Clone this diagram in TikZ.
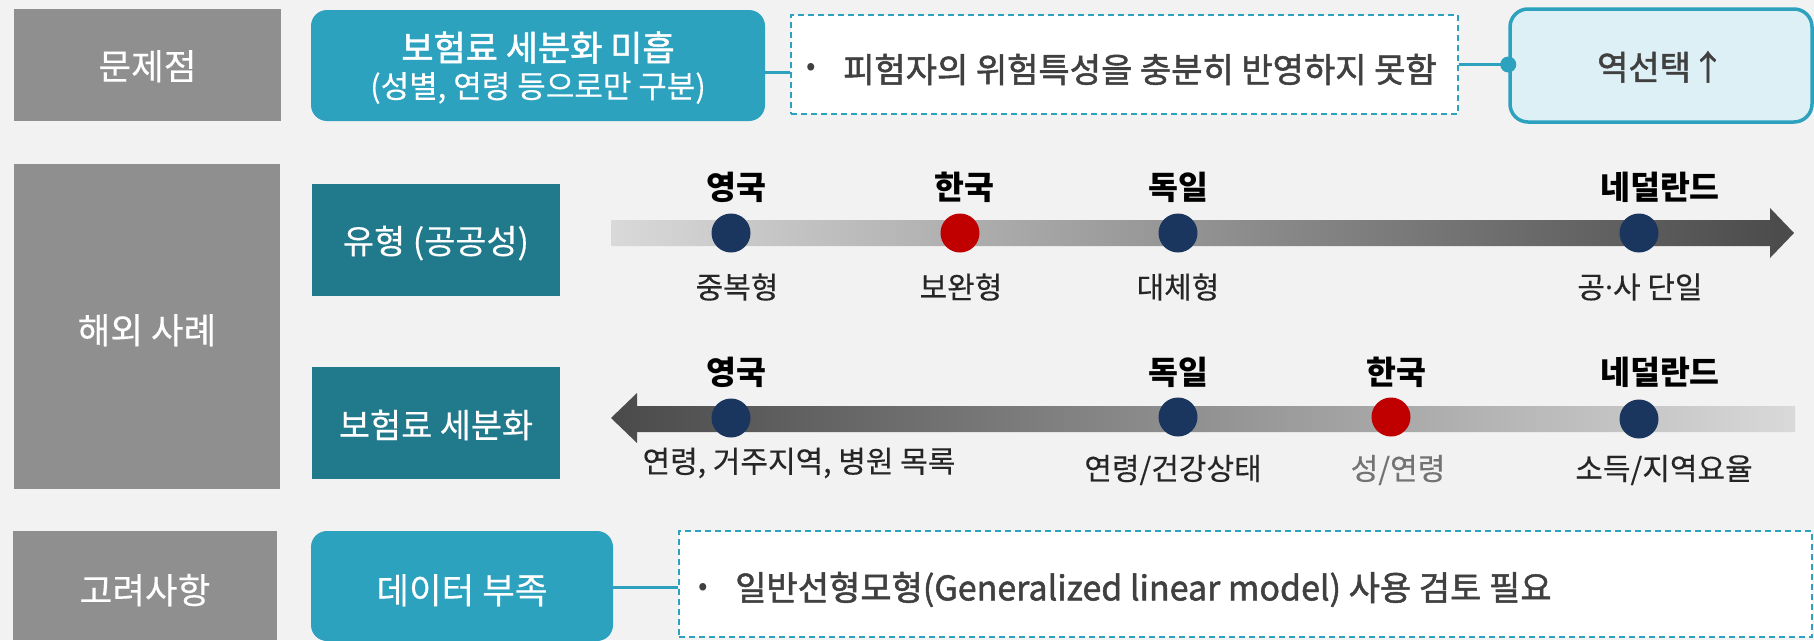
\documentclass[tikz,border=0pt]{standalone}
\usepackage{fontspec}
\setmainfont{Noto Sans CJK KR}
\newfontfamily\krreg{Noto Sans CJK KR}[FakeBold=0.3]
\newfontfamily\krmed{Noto Sans CJK KR}[FakeBold=1.5]
\newfontfamily\latinfont{Noto Sans}
\definecolor{bg}{HTML}{F2F2F2}
\definecolor{grayboxc}{HTML}{8F8F8F}
\definecolor{tealA}{HTML}{2CA2BF}
\definecolor{tealD}{HTML}{217A8C}
\definecolor{lightblue}{HTML}{DDF0F6}
\definecolor{navy}{HTML}{1A365F}
\definecolor{dotred}{HTML}{C00000}
\definecolor{txt}{HTML}{404040}
\definecolor{barlight}{HTML}{D9D9D9}
\definecolor{bardark}{HTML}{4A4A4A}
\tikzset{
  graybox/.style={fill=grayboxc, draw=none, text=white, font=\krreg\fontsize{35.5}{40}\selectfont, inner sep=0pt, text depth=2.5pt},
  tealbox/.style={fill=tealA, draw=none, rounded corners=16pt, text=white, inner sep=0pt, align=center},
  darkbox/.style={fill=tealD, draw=none, text=white, font=\krreg\fontsize{33.8}{38}\selectfont, inner sep=0pt, text depth=2.4pt},
  dashbox/.style={fill=white, draw=tealA, dashed, dash pattern=on 6pt off 4pt, line width=1.6pt, inner sep=0pt},
  resultbox/.style={fill=lightblue, draw=tealA, line width=3.5pt, rounded corners=18pt, inner sep=0pt, text=txt, font=\krmed\fontsize{34}{38}\selectfont, text height=31.2pt, text depth=2.4pt},
  conn/.style={draw=tealA, line width=3pt},
  bodytext/.style={text=txt, font=\krmed\fontsize{34}{38}\selectfont, inner sep=0pt, anchor=west},
  bullettext/.style={text=txt, font=\fontsize{28}{30}\selectfont, inner sep=0pt},
  whitetext/.style={text=white, inner sep=0pt},
  navydot/.style={circle, fill=navy, minimum size=39pt, inner sep=0pt},
  reddot/.style={circle, fill=dotred, minimum size=39pt, inner sep=0pt},
  country/.style={font=\fontsize{32.5}{36}\selectfont\bfseries, text=black, inner sep=0pt},
  sublabel/.style={font=\krreg\fontsize{30}{34}\selectfont, text=black!85, inner sep=0pt},
}
\begin{document}
\begin{tikzpicture}[x=1pt,y=-1pt]
\fill[bg] (0,0) rectangle (1814,640);
\useasboundingbox (0,0) rectangle (1814,640);

% left category boxes
\node[graybox, minimum width=267pt, minimum height=112pt, text height=31.5pt] (cat1) at (147.5,65) {문제점};
\node[graybox, minimum width=266pt, minimum height=325pt, text height=36.5pt] (cat2) at (147,326.5) {해외 사례};
\node[graybox, minimum width=264pt, minimum height=109pt, text height=38.5pt] (cat3) at (145,585.5) {고려사항};

% row 1
\node[tealbox, minimum width=454pt, minimum height=111pt] (prob) at (538,65.5) {};
\node[whitetext, font=\krmed\fontsize{35}{38}\selectfont] (prob1) at (538,47.5) {보험료 세분화 미흡};
\node[whitetext, font=\krreg\fontsize{31}{34}\selectfont] (prob2) at (538,88) {(성별, 연령 등으로만 구분)};
\node[dashbox, minimum width=667pt, minimum height=99pt] (desc1) at (1124.5,64.5) {};
\node[bullettext] (b1) at (811,69) {•};
\node[bodytext] (t1) at (843,69.5) {피험자의 위험특성을 충분히 반영하지 못함};
\node[resultbox, minimum width=302pt, minimum height=113pt] (res) at (1661,65.5) {역선택↑};

\coordinate (c1) at (0,72);
\draw[conn] (prob.east |- c1) -- (desc1.west |- c1);
\draw[conn] (desc1.east) -- (res.west |- desc1.east);
\fill[tealA] (res.west |- desc1.east) circle (8pt);

% row 2
\node[darkbox, minimum width=248pt, minimum height=112pt, text height=30pt] (type) at (436,240) {유형 (공공성)};
\node[darkbox, minimum width=248pt, minimum height=112pt, text height=32pt] (prem) at (436,423) {보험료 세분화};

\shade[left color=barlight, right color=bardark]
  (611,220) -- (1770,220) -- (1770,208) -- (1794,233) -- (1770,258) -- (1770,246) -- (611,246) -- cycle;
\shade[left color=bardark, right color=barlight]
  (611,418) -- (637,393) -- (637,406) -- (1795,406) -- (1795,432) -- (637,432) -- (637,443) -- cycle;

% top scale
\node[navydot] (d1uk) at (731,233) {};
\node[reddot]  (d1kr) at (960,233) {};
\node[navydot] (d1de) at (1178,233) {};
\node[navydot] (d1nl) at (1639,233) {};
\node[country] (n1uk) at (736,187) {영국};
\node[country] (n1kr) at (964,187) {한국};
\node[country] (n1de) at (1178,187) {독일};
\node[country] (n1nl) at (1660,187) {네덜란드};
\node[sublabel] (s1uk) at (737,287) {중복형};
\node[sublabel] (s1kr) at (961,287) {보완형};
\node[sublabel] (s1de) at (1178,287) {대체형};
\node[sublabel] (s1nl) at (1640,287) {공{\latinfont ·}사 단일};

% bottom scale
\node[navydot] (d2uk) at (731,418) {};
\node[navydot] (d2de) at (1178,417) {};
\node[reddot]  (d2kr) at (1391,417) {};
\node[navydot] (d2nl) at (1639,419) {};
\node[country] (n2uk) at (736,372) {영국};
\node[country] (n2de) at (1178,372) {독일};
\node[country] (n2kr) at (1396,372) {한국};
\node[country] (n2nl) at (1660,372) {네덜란드};
\node[sublabel] (s2uk) at (799,463) {연령, 거주지역, 병원 목록};
\node[sublabel] (s2de) at (1173,470) {연령/건강상태};
\node[sublabel, text=black!55] (s2kr) at (1398,470) {성/연령};
\node[sublabel] (s2nl) at (1664,470) {소득/지역요율};

% row 3
\node[tealbox, font=\krreg\fontsize{35.5}{40}\selectfont, minimum width=302pt, minimum height=110pt, text height=37.5pt, text depth=2.5pt] (data) at (462,586) {데이터 부족};
\node[dashbox, minimum width=1133pt, minimum height=106pt] (desc2) at (1245.5,584) {};
\node[bullettext] (b2) at (703,589) {•};
\node[bodytext] (t2) at (735,589.5) {일반선형모형(Generalized linear model) 사용 검토 필요};
\coordinate (c3) at (0,587);
\draw[conn] (data.east |- c3) -- (desc2.west |- c3);
\end{tikzpicture}
\end{document}
